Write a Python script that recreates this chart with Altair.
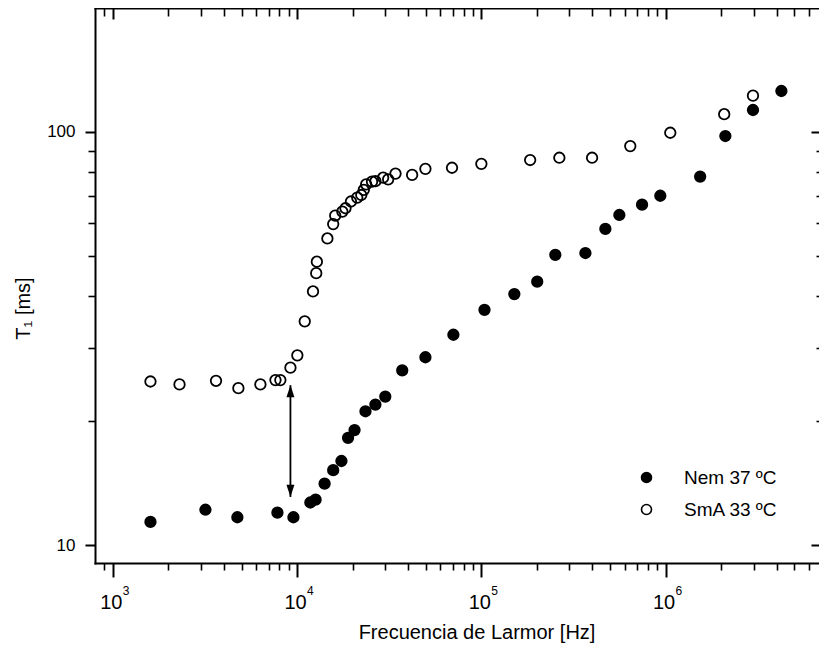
import altair as alt
import pandas as pd

# ---------------- data ----------------
series_names = ["Nem 37 ºC", "SmA 33 ºC"]

nem_f = [1600, 3180, 4740, 7820, 9550, 11800, 12600, 14100, 15700, 17400,
         18900, 20500, 23500, 26600, 30100, 37200, 49700, 70500, 104000, 151000,
         201000, 252000, 367000, 471000, 561000, 745000, 936000, 1540000, 2110000,
         2980000, 4250000]
nem_t = [11.4, 12.2, 11.7, 12.0, 11.7, 12.7, 12.9, 14.1, 15.2, 16.0,
         18.2, 19.0, 21.1, 21.9, 22.9, 26.5, 28.5, 32.3, 37.1, 40.5,
         43.4, 50.4, 50.9, 58.2, 62.9, 66.6, 70.0, 77.9, 97.6,
         112.8, 125.4]

sma_f = [1600, 2300, 3630, 4800, 6320, 7630, 8110, 9200, 10030, 11000,
         12200, 12700, 12800, 14600, 15700, 16100, 17600, 18300, 19600, 21200,
         22300, 23000, 23700, 25500, 26600, 29300, 31200, 34200, 42100, 49700,
         69300, 100000, 184000, 265000, 399000, 643000, 1060000, 2080000, 2980000]
sma_t = [24.9, 24.5, 25.0, 24.0, 24.5, 25.1, 25.1, 26.9, 28.8, 34.8,
         41.1, 45.5, 48.5, 55.2, 59.8, 62.7, 64.1, 65.3, 67.8, 69.3,
         70.3, 72.3, 74.6, 75.7, 75.9, 77.4, 76.7, 79.2, 78.6, 81.3,
         81.8, 83.6, 85.4, 86.5, 86.5, 92.3, 99.4, 110.2, 122.2]

arrow_f = [9200]
arrow_top = [24.4]
arrow_bottom = [13.1]

x_major = [1e3, 1e4, 1e5, 1e6]
x_exponents = ["3", "4", "5", "6"]
x_minor = [900] + [k * 10 ** e for e in (3, 4, 5) for k in range(2, 10)] + [k * 1e6 for k in range(2, 7)]
y_major = [10, 100]
y_minor = [20, 30, 40, 50, 60, 70, 80, 90]

x_domain = [800, 6.8e6]
y_domain = [9.07, 199]

x_title = "Frecuencia de Larmor [Hz]"
y_title = "T₁ [ms]"

FONT = "Liberation Sans"
W, H = 724, 555

# ---------------- tables ----------------
pts = pd.DataFrame({
    "f": nem_f + sma_f,
    "T": nem_t + sma_t,
    "series": [series_names[0]] * len(nem_f) + [series_names[1]] * len(sma_f),
})
arrow_df = pd.DataFrame({"f": arrow_f, "top": arrow_top, "bottom": arrow_bottom})
exp_df = pd.DataFrame({"f": x_major, "exp": x_exponents})

xs = alt.Scale(type="log", domain=x_domain, nice=False)
ys = alt.Scale(type="log", domain=y_domain, nice=False)


def axis_layer(xaxis, yaxis):
    return alt.Chart(pts).mark_point(opacity=0).encode(
        x=alt.X("f:Q", scale=xs, axis=xaxis),
        y=alt.Y("T:Q", scale=ys, axis=yaxis),
    )


common = dict(grid=False, tickColor="black")
no_domain = dict(domain=False, **common)
frame = dict(domain=True, domainColor="black", domainWidth=2, domainCap="square", **common)

bottom_major = alt.Axis(
    orient="bottom", values=x_major, labelExpr="'10'", tickSize=14, tickWidth=2,
    labelFont=FONT, labelFontSize=20, labelColor="black", labelPadding=31,
    labelBaseline="alphabetic", labelAlign="center", labelOffset=-2,
    labelOverlap=False, labelFlush=False,
    title=x_title, titleFont=FONT, titleFontSize=20, titleFontWeight="normal",
    titleColor="black", titleX=381.5, titleY=75.5, titleBaseline="alphabetic",
    titleAlign="center", **no_domain)
left_major = alt.Axis(
    orient="left", values=y_major, format="d", tickSize=10, tickWidth=2,
    labelFont=FONT, labelFontSize=17, labelColor="black", labelPadding=10,
    labelOverlap=False, labelFlush=False,
    title=y_title, titleFont=FONT, titleFontSize=20, titleFontWeight="normal",
    titleColor="black", titleX=-66, titleY=300, titleAngle=270,
    titleBaseline="alphabetic", titleAlign="center", **no_domain)
bottom_minor = alt.Axis(orient="bottom", values=x_minor, labels=False, tickSize=7,
                        tickWidth=1.6, title=None, **frame)
left_minor = alt.Axis(orient="left", values=y_minor, labels=False, tickSize=7,
                      tickWidth=1.6, title=None, **frame)
top_major = alt.Axis(orient="top", values=x_major, labels=False, tickSize=11, offset=-11,
                     tickWidth=2, title=None, **no_domain)
right_major = alt.Axis(orient="right", values=y_major, labels=False, tickSize=8, offset=-8,
                       tickWidth=2, title=None, **no_domain)
top_minor = alt.Axis(orient="top", values=x_minor, labels=False, tickSize=8, offset=-8,
                     tickWidth=1.6, title=None, **no_domain)
right_minor = alt.Axis(orient="right", values=y_minor, labels=False, tickSize=3, offset=-3,
                       tickWidth=1.6, title=None, **no_domain)
top_line = alt.Axis(orient="top", values=x_major, labels=False, ticks=False,
                    title=None, **frame)

ax1 = axis_layer(bottom_major, left_major)
ax2 = axis_layer(bottom_minor, left_minor)
ax3 = axis_layer(top_major, right_major)
ax4 = axis_layer(top_minor, right_minor)
ax5 = alt.Chart(pts).mark_point(opacity=0).encode(
    x=alt.X("f:Q", scale=xs, axis=top_line),
    y=alt.Y("T:Q", scale=ys, axis=None),
)

points = alt.Chart(pts).mark_point(
    filled=True, shape="circle", size=110, stroke="black", strokeWidth=1.8, opacity=1
).encode(
    x=alt.X("f:Q", scale=xs, axis=None),
    y=alt.Y("T:Q", scale=ys, axis=None),
    fill=alt.Fill("series:N",
                  scale=alt.Scale(domain=series_names, range=["black", "transparent"]),
                  legend=alt.Legend(title=None, orient="none", legendX=542, legendY=460,
                                    symbolType="circle", symbolSize=100,
                                    symbolStrokeColor="black", symbolStrokeWidth=1.6,
                                    labelFont=FONT, labelFontSize=19, labelColor="black",
                                    labelOffset=28, rowPadding=12, padding=0)),
)

rule = alt.Chart(arrow_df).mark_rule(color="black", strokeWidth=1.8).encode(
    x=alt.X("f:Q", scale=xs, axis=None),
    y=alt.Y("top:Q", scale=ys, axis=None),
    y2="bottom:Q",
)
head_up = alt.Chart(arrow_df).mark_point(
    shape="M0,-1L0.65,1L-0.65,1Z", filled=True, color="black", size=150, opacity=1, yOffset=6
).encode(x=alt.X("f:Q", scale=xs, axis=None), y=alt.Y("top:Q", scale=ys, axis=None))
head_down = alt.Chart(arrow_df).mark_point(
    shape="M0,1L0.65,-1L-0.65,-1Z", filled=True, color="black", size=150, opacity=1, yOffset=-6
).encode(x=alt.X("f:Q", scale=xs, axis=None), y=alt.Y("bottom:Q", scale=ys, axis=None))

exps = alt.Chart(exp_df).mark_text(
    align="left", baseline="alphabetic", dx=10, font=FONT, fontSize=12, color="black"
).encode(
    x=alt.X("f:Q", scale=xs, axis=None),
    y=alt.value(H + 32),
    text="exp:N",
)

chart = alt.layer(ax1, ax2, ax3, ax4, ax5, points, rule, head_up, head_down, exps).resolve_axis(
    x="independent", y="independent"
).properties(
    width=W, height=H,
    autosize=alt.AutoSizeParams(type="none"),
    padding={"left": 87, "top": 0, "right": 0, "bottom": 85},
    background="white",
).configure_view(stroke=None)

chart.save("out.html", embed_options={"renderer": "svg", "actions": False})
